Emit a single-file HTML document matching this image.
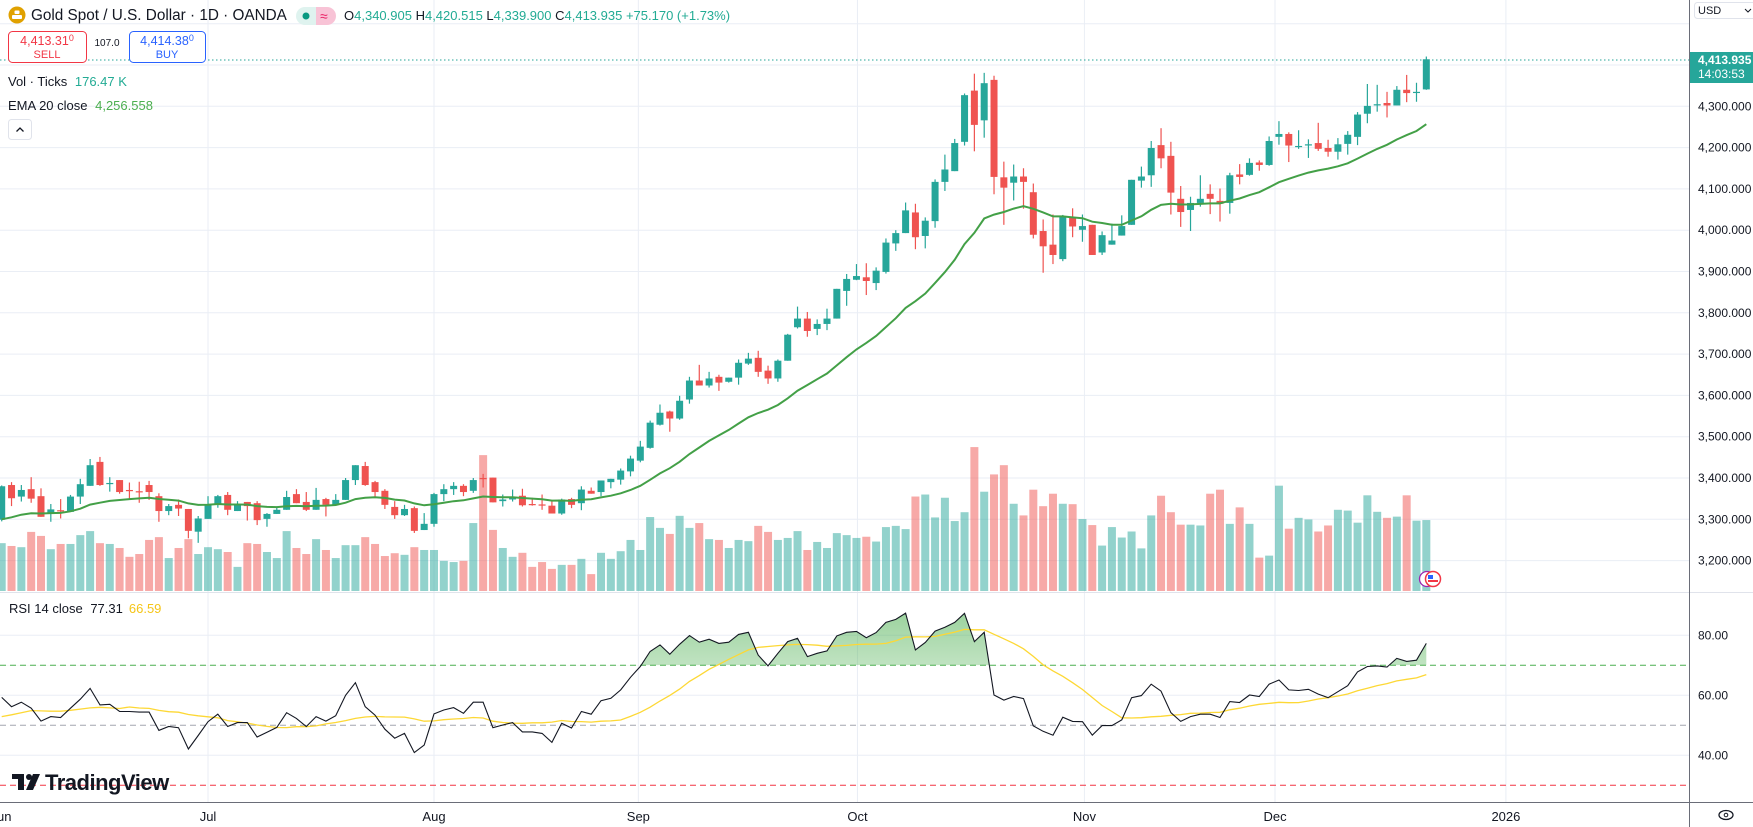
<!DOCTYPE html>
<html><head><meta charset="utf-8">
<style>
html,body{margin:0;padding:0;background:#fff;}
svg{display:block;font-family:"Liberation Sans",sans-serif;}
</style></head>
<body>
<svg id="chart" width="1753" height="827" viewBox="0 0 1753 827" xmlns="http://www.w3.org/2000/svg">
<defs>
<linearGradient id="rsiFill" x1="0" y1="0" x2="0" y2="1">
<stop offset="0" stop-color="#4caf50" stop-opacity="0.55"/>
<stop offset="1" stop-color="#4caf50" stop-opacity="0.02"/>
</linearGradient>
<clipPath id="priceClip"><rect x="0" y="28" width="1689" height="564"/></clipPath>
<clipPath id="rsiClip"><rect x="0" y="593" width="1689" height="209"/></clipPath>
<clipPath id="obClip"><rect x="0" y="593" width="1689" height="72.3"/></clipPath>
</defs>
<rect width="1753" height="827" fill="#fff"/>
<g id="grid"></g>
<g id="vol" clip-path="url(#priceClip)"></g>
<g id="candles" clip-path="url(#priceClip)"></g>
<path id="ema" fill="none" stroke="#43a047" stroke-width="2" clip-path="url(#priceClip)"/>
<line x1="0" x2="1689" y1="60" y2="60" stroke="#26a69a" stroke-dasharray="1.5,2.5" stroke-width="1"/>
<g id="rsi"></g>

<line x1="0" x2="1753" y1="592.5" y2="592.5" stroke="#e0e3eb"/>
<line x1="1689.5" x2="1689.5" y1="0" y2="827" stroke="#6a6d78"/>
<line x1="0" x2="1753" y1="802.5" y2="802.5" stroke="#6a6d78"/>
<g id="axes" font-size="12" fill="#131722"></g>

<g>
<circle cx="17" cy="15" r="8.5" fill="#e0a100"/>
<rect x="12" y="15" width="10" height="4" fill="#fff" rx="1"/>
<rect x="14.5" y="10.5" width="5" height="3.5" fill="#fff" rx="1"/>
<text x="31" y="20" font-size="15.3" fill="#131722">Gold Spot / U.S. Dollar · 1D · OANDA</text>
</g>
<g>
<rect x="296" y="7" width="22" height="18" rx="9" fill="#dff3ef"/>
<rect x="307" y="7" width="11" height="18" fill="#dff3ef"/>
<circle cx="306" cy="16" r="3.5" fill="#089981"/>
<rect x="316" y="7" width="20" height="18" rx="9" fill="#f8c3d6"/>
<rect x="316" y="7" width="9" height="18" fill="#f8c3d6"/>
<text x="320" y="21" font-size="14" fill="#e91e63">≈</text>
</g>
<text x="344" y="20" font-size="13" fill="#131722">O<tspan fill="#22ab94">4,340.905</tspan> H<tspan fill="#22ab94">4,420.515</tspan> L<tspan fill="#22ab94">4,339.900</tspan> C<tspan fill="#22ab94">4,413.935</tspan> <tspan fill="#22ab94">+75.170 (+1.73%)</tspan></text>

<g>
<rect x="8.5" y="31.5" width="78" height="31" rx="4" fill="#fff" stroke="#f23645"/>
<text x="47" y="45" font-size="12.5" fill="#f23645" text-anchor="middle">4,413.31<tspan font-size="9" dy="-4">0</tspan></text>
<text x="47" y="58" font-size="11" fill="#f23645" text-anchor="middle">SELL</text>
</g>
<text x="107" y="46" font-size="10" fill="#131722" text-anchor="middle">107.0</text>
<g>
<rect x="129.5" y="31.5" width="76" height="31" rx="4" fill="#fff" stroke="#2962ff"/>
<text x="167" y="45" font-size="12.5" fill="#2962ff" text-anchor="middle">4,414.38<tspan font-size="9" dy="-4">0</tspan></text>
<text x="167" y="58" font-size="11" fill="#2962ff" text-anchor="middle">BUY</text>
</g>
<text x="8" y="86" font-size="13" fill="#131722">Vol · Ticks <tspan fill="#22ab94" dx="4">176.47 K</tspan></text>
<text x="8" y="110" font-size="13" fill="#131722">EMA 20 close <tspan fill="#4caf50" dx="4">4,256.558</tspan></text>
<g>
<rect x="8.5" y="119.5" width="23" height="20" rx="3" fill="#fff" stroke="#e0e3eb"/>
<path d="M16.5 131.5 L20 128 L23.5 131.5" fill="none" stroke="#131722" stroke-width="1.3"/>
</g>
<text x="9" y="613" font-size="13" fill="#131722">RSI 14 close <tspan dx="4">77.31</tspan><tspan fill="#f5c518" dx="6">66.59</tspan></text>

<g>
<rect x="1694.5" y="2.5" width="62" height="16" rx="3" fill="#fff" stroke="#e0e3eb"/>
<text x="1698" y="14" font-size="11" fill="#131722">USD</text>
<path d="M1745 9 L1748 12 L1751 9" fill="none" stroke="#131722"/>
</g>
<rect x="1690" y="52" width="63" height="31" fill="#26a69a"/>
<text x="1698" y="64" font-size="12" font-weight="bold" fill="#fff">4,413.935</text>
<text x="1698" y="78" font-size="12" fill="#fff">14:03:53</text>
<g>
<ellipse cx="1726" cy="815" rx="7" ry="4.5" fill="none" stroke="#131722" stroke-width="1.3"/>
<circle cx="1726" cy="815" r="1.8" fill="none" stroke="#131722"/>
</g>

<g>
<circle cx="1427" cy="579" r="7.5" fill="#fff" stroke="#9c27b0" stroke-width="1.3"/>
<circle cx="1433" cy="579" r="7.5" fill="#fff" stroke="#f23645" stroke-width="1.5"/>
<rect x="1428" y="575" width="5" height="4" fill="#2962ff"/>
<rect x="1428" y="580" width="10" height="2" fill="#f23645"/>
</g>

<g>
<rect x="12" y="774" width="12" height="5" fill="#131722"/>
<rect x="18" y="774" width="6" height="16" fill="#131722"/>
<circle cx="29" cy="777" r="3" fill="#131722"/>
<path d="M33 774 L40 774 L33 790 L26 790 Z" fill="#131722"/>
<text x="45" y="790" font-size="22" font-weight="bold" fill="#131722" letter-spacing="-0.5">TradingView</text>
</g>

<script>
const opens=[3299,3383,3355,3373,3356,3314,3322,3318,3355,3381,3439,3387,3395,3371,3368,3383,3356,3320,3335,3325,3270,3301,3337,3359,3320,3342,3339,3301,3313,3323,3361,3342,3323,3349,3335,3347,3395,3429,3390,3369,3330,3310,3327,3274,3289,3361,3373,3381,3369,3400,3401,3344,3348,3357,3337,3336,3333,3314,3349,3339,3369,3366,3390,3396,3416,3442,3473,3529,3561,3544,3590,3636,3624,3645,3633,3643,3677,3691,3660,3641,3684,3765,3786,3761,3773,3786,3853,3880,3886,3872,3899,3968,3993,4043,3986,4022,4117,4143,4214,4338,4266,4364,4128,4115,4130,4092,3998,3965,3930,4030,4001,4013,3946,3965,3987,4013,4120,4133,4206,4180,4076,4049,4066,4088,4071,4066,4135,4134,4164,4158,4226,4233,4203,4207,4211,4199,4190,4209,4226,4282,4303,4308,4302,4340,4333,4340.9];
const highs=[3382,3390,3383,3402,3375,3337,3349,3359,3398,3446,3451,3402,3395,3389,3391,3393,3363,3337,3348,3325,3308,3356,3359,3366,3344,3342,3344,3315,3330,3369,3373,3366,3376,3352,3361,3400,3431,3439,3393,3373,3344,3335,3331,3315,3364,3385,3390,3385,3400,3410,3401,3360,3372,3374,3352,3360,3346,3350,3352,3380,3377,3394,3398,3423,3454,3490,3539,3578,3563,3599,3645,3674,3657,3650,3643,3687,3703,3708,3672,3687,3749,3815,3802,3784,3810,3858,3894,3918,3920,3910,3980,4000,4067,4064,4031,4123,4183,4221,4331,4379,4381,4374,4166,4159,4150,4113,4026,4038,4037,4053,4038,4013,3997,4016,4036,4122,4154,4216,4247,4214,4107,4081,4133,4111,4101,4139,4160,4174,4169,4227,4264,4237,4242,4220,4260,4219,4223,4240,4286,4354,4352,4335,4349,4376,4357,4420.5];
const lows=[3295,3332,3343,3340,3306,3294,3302,3318,3337,3381,3381,3367,3362,3348,3340,3347,3294,3310,3308,3254,3243,3301,3328,3310,3320,3297,3286,3282,3313,3323,3339,3320,3323,3307,3335,3347,3383,3381,3352,3325,3301,3308,3267,3274,3282,3344,3359,3356,3364,3377,3341,3331,3343,3331,3333,3323,3314,3311,3327,3322,3362,3356,3375,3384,3404,3438,3471,3527,3512,3541,3580,3624,3619,3611,3631,3626,3674,3645,3628,3633,3684,3762,3742,3746,3758,3786,3817,3879,3843,3855,3895,3950,3993,3954,3956,4006,4095,4143,4205,4191,4224,4087,4013,4072,4052,3980,3897,3918,3925,3983,3972,3940,3940,3965,3987,4013,4103,4105,4150,4038,4008,3998,4057,4039,4021,4040,4111,4132,4144,4156,4207,4165,4197,4175,4192,4178,4171,4183,4206,4259,4287,4273,4302,4310,4311,4339.9];
const closes=[3380,3351,3371,3350,3306,3324,3321,3355,3385,3431,3383,3388,3366,3370,3367,3366,3320,3332,3326,3272,3302,3337,3356,3323,3337,3332,3298,3313,3323,3354,3339,3323,3347,3335,3347,3395,3431,3383,3366,3335,3310,3325,3272,3289,3361,3373,3381,3366,3395,3399,3341,3348,3354,3334,3336,3335,3314,3348,3335,3372,3362,3394,3398,3418,3447,3476,3534,3558,3544,3587,3636,3624,3641,3631,3643,3679,3689,3657,3641,3684,3747,3786,3756,3773,3786,3858,3882,3889,3877,3902,3970,3993,4048,3983,4023,4117,4147,4211,4327,4255,4356,4129,4103,4130,4117,3989,3961,3940,4033,4009,4010,3940,3988,3975,4010,4122,4130,4199,4174,4091,4044,4066,4076,4076,4064,4133,4129,4163,4158,4216,4233,4205,4204,4208,4197,4190,4208,4231,4280,4301,4305,4302,4340,4332,4335,4413.9];
const volumes=[119,112,109,147,137,104,117,117,139,149,119,117,107,85,92,127,134,82,107,129,92,109,104,97,60,119,117,97,82,149,107,92,129,102,82,114,114,134,117,87,94,90,109,102,102,75,72,75,169,338,152,107,85,95,60,72,55,65,65,80,42,95,80,99,127,102,184,157,142,187,157,169,129,127,107,127,124,162,147,127,132,149,102,122,107,144,139,132,135,123,159,162,154,235,240,183,232,174,196,358,247,290,313,217,188,252,211,242,217,216,179,164,113,159,133,148,106,188,237,196,165,165,163,242,252,167,208,167,83,88,262,155,182,178,148,163,202,200,170,238,197,182,185,238,175,176.47];
const rsiValues=[59.3,56.2,57.7,55.7,51.4,52.9,52.6,55.7,58.7,62.3,56.8,57.0,54.6,54.6,54.4,54.4,48.3,49.6,49.2,42.1,46.6,51.2,53.7,49.6,50.9,50.9,46.1,47.7,49.3,54.2,52.3,49.6,52.9,51.4,53.2,60.0,64.2,56.2,53.4,48.7,45.7,47.3,40.9,43.4,53.8,55.1,55.9,54.0,57.7,57.7,49.2,50.1,50.9,47.8,47.8,47.3,44.3,50.7,49.1,54.6,53.7,58.2,59.0,61.8,66.0,69.6,74.6,76.8,73.7,77.0,79.9,77.7,78.7,77.3,77.7,80.3,81.0,73.4,69.8,74.0,77.9,79.0,72.9,74.0,74.8,79.8,81.0,81.3,79.2,80.9,84.3,85.3,87.4,75.1,77.6,81.4,82.7,84.3,87.3,77.9,81.0,60.1,58.4,59.6,58.9,49.8,48.0,46.7,52.7,51.3,51.2,46.7,49.9,49.9,51.8,59.2,59.9,63.7,61.4,54.2,51.3,52.9,53.7,53.7,52.6,57.9,57.6,60.1,59.6,63.7,65.1,61.8,61.6,62.0,60.4,59.2,61.2,63.2,67.8,69.6,69.8,69.4,72.3,71.3,71.7,77.3];
const rsiMaHead=[52.9,53.5,54.2,54.9,54.8,54.7,54.7,55.0,55.4,55.8,56.0,55.8,55.6];
const emaSeed=3300;
const priceTicks=[3200,3300,3400,3500,3600,3700,3800,3900,4000,4100,4200,4300,4400,4500];
const priceTickLabels=["3,200.000","3,300.000","3,400.000","3,500.000","3,600.000","3,700.000","3,800.000","3,900.000","4,000.000","4,100.000","4,200.000","4,300.000","4,400.000","4,500.000"];
const rsiTicks=[40,60,80];
const rsiTickLabels=["40.00","60.00","80.00"];
const monthLabels=["un","Jul","Aug","Sep","Oct","Nov","Dec","2026"];
const monthBarIndex=[-0.3,21,44,64.8,87.1,110.2,129.6,153.1];

const NS="http://www.w3.org/2000/svg";
const xOf=i=>1.7+i*9.825;
const yP=p=>478-(p-3400)*0.413;
const yR=v=>635.3+(80-v)*3;
const volH=v=>v*0.402;
const VOL_BASE=591;
function mk(tag,attrs,parent){const e=document.createElementNS(NS,tag);for(const k in attrs)e.setAttribute(k,attrs[k]);parent.appendChild(e);return e;}
const grid=document.getElementById('grid'),axes=document.getElementById('axes');

priceTicks.forEach((p,k)=>{
  const l=mk('line',{x1:0,x2:1689,y1:yP(p),y2:yP(p),stroke:'#eaeef5'},grid);
  
  
  if(yP(p)>75){
    const t=mk('text',{x:1698,y:yP(p)+4},axes);t.textContent=priceTickLabels[k];
    
    
  }
});
rsiTicks.forEach((v,k)=>{
  const l=mk('line',{x1:0,x2:1689,y1:yR(v),y2:yR(v),stroke:'#eaeef5'},grid);
  
  
  const t=mk('text',{x:1698,y:yR(v)+4},axes);t.textContent=rsiTickLabels[k];
  
  
});
monthLabels.forEach((m,k)=>{
  const x=xOf(monthBarIndex[k]);
  if(k>0){const l=mk('line',{x1:x,x2:x,y1:0,y2:802,stroke:'#eaeef5'},grid);
    
    }
  const t=mk('text',{x:k===0?-3:x,y:821,'text-anchor':k===0?'start':'middle','font-size':13},axes);t.textContent=m;
  
  
});

const vg=document.getElementById('vol');
volumes.forEach((v,i)=>{
  const up=closes[i]>=opens[i];const h=volH(v);
  const r=mk('rect',{x:xOf(i)-4,y:VOL_BASE-h,width:8,height:h,fill:up?'rgba(38,166,154,0.5)':'rgba(239,83,80,0.5)'},vg);
  
  
});
const cg=document.getElementById('candles');
opens.forEach((o,i)=>{
  const c=closes[i],up=c>=o,col=up?'#26a69a':'#ef5350',x=xOf(i);
  const w=mk('line',{x1:x,x2:x,y1:yP(highs[i]),y2:yP(lows[i]),stroke:col,'stroke-width':1.2},cg);
  
  
  const top=yP(Math.max(o,c)),bh=Math.max(1.2,Math.abs(yP(o)-yP(c)));
  const b=mk('rect',{x:x-3.5,y:top,width:7,height:bh,fill:col},cg);
  
  
});
let ema=emaSeed,d='';const kk=2/21;
closes.forEach((c,i)=>{if(i>0)ema=c*kk+ema*(1-kk);d+=(i?'L':'M')+xOf(i).toFixed(1)+' '+yP(ema).toFixed(1);});
document.getElementById('ema').setAttribute('d',d);

const rg=document.getElementById('rsi');
const pts=rsiValues.map((v,i)=>xOf(i).toFixed(1)+','+yR(v).toFixed(1));
const fill=mk('polygon',{points:xOf(0)+','+yR(70)+' '+pts.join(' ')+' '+xOf(rsiValues.length-1)+','+yR(70),fill:'url(#rsiFill)','clip-path':'url(#obClip)'},rg);


[[70,'#4caf50','rsi-upper-band'],[50,'#a3a6af','rsi-middle-band'],[30,'#f23645','rsi-lower-band']].forEach(b=>{
  const l=mk('line',{x1:0,x2:1689,y1:yR(b[0]),y2:yR(b[0]),stroke:b[1],'stroke-dasharray':'6,4'},rg);
  
  
});
const ma=rsiValues.map((v,i)=>{if(i<13)return rsiMaHead[i];let s=0;for(let j=i-13;j<=i;j++)s+=rsiValues[j];return s/14;});
const mal=mk('polyline',{points:ma.map((v,i)=>xOf(i).toFixed(1)+','+yR(v).toFixed(1)).join(' '),fill:'none',stroke:'#fdd835','stroke-width':1.3},rg);


const rl=mk('polyline',{points:pts.join(' '),fill:'none',stroke:'#131722','stroke-width':1.1},rg);


</script>
</svg>
</body></html>
